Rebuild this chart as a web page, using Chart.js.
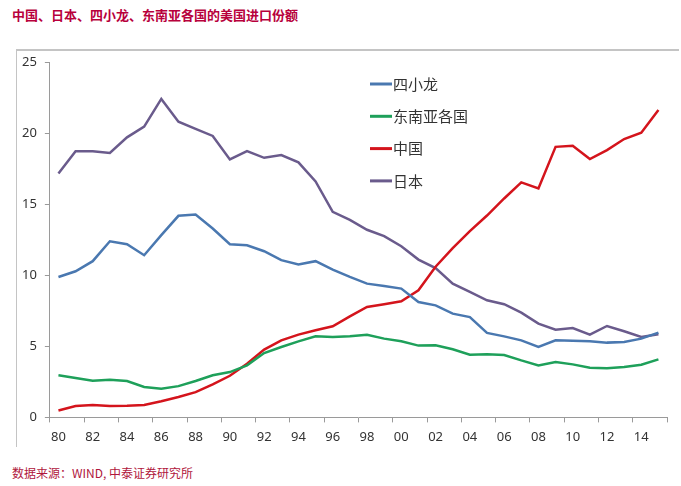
<!DOCTYPE html>
<html>
<head>
<meta charset="utf-8">
<script src="https://cdn.jsdelivr.net/npm/chart.js@4"></script>
<style>
    body { margin: 0; background: #fff; }
    #wrap { position: relative; width: 681px; height: 486px; }
    #title { position: absolute; left: 12px; top: 5px; font: bold 13px "Noto Sans CJK SC", sans-serif; color: #b8003c; }
    #frame { position: absolute; left: 16px; top: 49px; width: 662px; height: 396px; border-top: 2px solid #c4c4c4; border-left: 1px solid #c4c4c4; }
    #source { position: absolute; left: 12px; top: 464px; font: 12px "Noto Sans CJK SC", sans-serif; color: #b0163c; }
    canvas { position: absolute; left: 0; top: 0; }
</style>
</head>
<body>
<div id="wrap">
    <div id="title">中国、日本、四小龙、东南亚各国的美国进口份额</div>
    <div id="frame"></div>
    <div id="source">数据来源：WIND, 中泰证券研究所</div>
    <canvas id="chart" width="681" height="486"></canvas>
</div>
<script>
// years 1980 - 2015
const years = ['80','81','82','83','84','85','86','87','88','89',
               '90','91','92','93','94','95','96','97','98','99',
               '00','01','02','03','04','05','06','07','08','09',
               '10','11','12','13','14','15'];

// 四小龙
const dragons = [9.88, 10.28, 10.99, 12.39, 12.18, 11.41, 12.82, 14.18, 14.27, 13.29,
                 12.18, 12.11, 11.69, 11.06, 10.75, 10.99, 10.4, 9.88, 9.41, 9.25,
                 9.06, 8.12, 7.88, 7.3, 7.06, 5.94, 5.7, 5.42, 4.95, 5.42,
                 5.4, 5.35, 5.26, 5.3, 5.54, 5.96];

// 东南亚各国
const asean = [2.96, 2.77, 2.58, 2.65, 2.56, 2.14, 2.02, 2.2, 2.56, 2.96,
               3.19, 3.66, 4.53, 4.95, 5.35, 5.7, 5.65, 5.7, 5.82, 5.54,
               5.35, 5.05, 5.07, 4.79, 4.41, 4.44, 4.39, 4.01, 3.66, 3.9,
               3.73, 3.5, 3.45, 3.54, 3.71, 4.08];

// 中国
const china = [0.49, 0.8, 0.87, 0.8, 0.82, 0.87, 1.13, 1.43, 1.78, 2.32,
               2.93, 3.78, 4.77, 5.42, 5.82, 6.13, 6.41, 7.11, 7.77, 7.96,
               8.17, 8.94, 10.6, 11.9, 13.1, 14.2, 15.4, 16.53, 16.1, 19.03,
               19.1, 18.17, 18.8, 19.58, 20.02, 21.62];

// 日本
const japan = [17.16, 18.73, 18.73, 18.6, 19.7, 20.45, 22.4, 20.8, 20.3, 19.8,
               18.15, 18.73, 18.26, 18.45, 17.94, 16.6, 14.46, 13.9, 13.2, 12.75,
               12.04, 11.1, 10.5, 9.41, 8.83, 8.24, 7.96, 7.37, 6.6, 6.17,
               6.29, 5.82, 6.43, 6.06, 5.66, 5.85];

const yTicks = [0, 5, 10, 15, 20, 25];

const axisFont = { family: '"Noto Sans", sans-serif', size: 13 };

// legend drawn inside the plot, like the excel original
const innerLegend = {
    id: 'innerLegend',
    afterDraw(chart) {
        const ctx = chart.ctx;
        const x0 = 370, y0 = 84, gap = 32.3;
        ctx.save();
        ctx.font = '15px "Noto Sans CJK SC", sans-serif';
        ctx.textBaseline = 'middle';
        chart.data.datasets.forEach((ds, i) => {
            const y = y0 + i * gap;
            ctx.strokeStyle = ds.borderColor;
            ctx.lineWidth = 3;
            ctx.beginPath();
            ctx.moveTo(x0, y);
            ctx.lineTo(x0 + 22, y);
            ctx.stroke();
            ctx.fillStyle = '#333';
            ctx.fillText(ds.label, x0 + 23, y);
        });
        ctx.restore();
    }
};

const ctx = document.getElementById('chart').getContext('2d');
const chart = new Chart(ctx, {
    type: 'line',
    data: {
        labels: years,
        datasets: [
            { label: '四小龙', data: dragons, borderColor: '#4a78b0' },
            { label: '东南亚各国', data: asean, borderColor: '#1ea05a' },
            { label: '中国', data: china, borderColor: '#d4141c' },
            { label: '日本', data: japan, borderColor: '#6a5b8c' }
        ]
    },
    options: {
        responsive: false,
        animation: false,
        layout: { padding: { left: 14, right: 14, top: 62, bottom: 34 } },
        elements: {
            line: { borderWidth: 2.5, tension: 0, fill: false },
            point: { radius: 0, hoverRadius: 0 }
        },
        plugins: {
            legend: { display: false },
            tooltip: { enabled: false }
        },
        scales: {
            x: {
                offset: true,
                grid: {
                    offset: true,
                    drawOnChartArea: false,
                    tickLength: 5,
                    color: c => (c.index === undefined || c.index % 2 === 0) ? '#9a9a9a' : 'rgba(0,0,0,0)'
                },
                border: { color: '#9a9a9a', width: 1 },
                ticks: {
                    autoSkip: false,
                    maxRotation: 0,
                    padding: 7,
                    color: '#333',
                    font: axisFont,
                    callback: (v, i) => i % 2 === 0 ? years[i] : ''
                }
            },
            y: {
                min: 0,
                max: 25,
                afterBuildTicks: axis => { axis.ticks = yTicks.map(v => ({ value: v })); },
                grid: { drawOnChartArea: false, tickLength: 5, color: '#9a9a9a' },
                border: { color: '#9a9a9a', width: 1 },
                ticks: { padding: 8, color: '#333', font: axisFont }
            }
        }
    },
    plugins: [innerLegend]
});
</script>
</body>
</html>
